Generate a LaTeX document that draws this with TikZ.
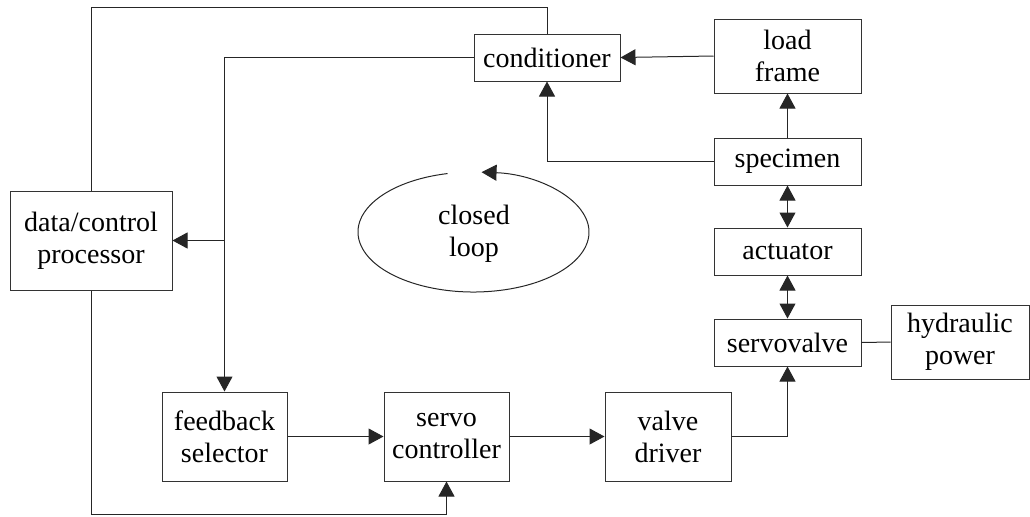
\documentclass[tikz,border=0pt]{standalone}
\usepackage{fontspec}
\setmainfont{Liberation Serif}
\usepackage{tikz}
\usetikzlibrary{arrows.meta,positioning,calc}
\tikzstyle{block} = [rectangle, draw=black!80, line width=0.5pt, align=center, inner sep=0pt, font=\rmfamily\fontsize{14}{16}\selectfont]
\tikzstyle{flatbox} = [block, minimum width=73.5pt, minimum height=23.5pt]
\tikzstyle{loopbox} = [block, minimum width=62.5pt, minimum height=44.5pt]
\tikzstyle{link} = [line width=0.5pt, draw=black!85]
\tikzstyle{arrow} = [link, -{Triangle[length=7.5pt,width=8pt]}]
\tikzstyle{twoway} = [link, {Triangle[length=7.5pt,width=8pt]}-{Triangle[length=7.5pt,width=8pt]}]

\begin{document}
\begin{tikzpicture}[x=0.5pt, y=-0.5pt]
\useasboundingbox (0,0) rectangle (1030,516);

% Left side: processor and signal conditioning
\node[block, minimum width=81pt, minimum height=49.5pt] (proc) at (91,240.5) {data/control\\processor};
\node[flatbox, minimum width=73pt] (cond) at (547,57.5) {conditioner};

% Right column: test rig
\node[flatbox, minimum height=37pt] (frame) at (787.5,56) {load\\frame};
\node[flatbox] (spec) at (787.5,161.5) {specimen};
\node[flatbox] (act) at (787.5,251.5) {actuator};
\node[flatbox] (valve) at (787.5,342.5) {servovalve};
\node[block, minimum width=69pt, minimum height=37pt] (hyd) at (960,342) {hydraulic\\power};

% Bottom row: control chain
\node[loopbox] (select) at (224.5,436.5) {feedback\\selector};
\node[loopbox] (servo) at (446.5,436.5) {servo\\controller};
\node[loopbox, minimum width=63pt] (driver) at (668,436.5) {valve\\driver};

% Loop label
\coordinate (loopc) at (473.5,232);
\node[font=\rmfamily\fontsize{14}{16}\selectfont, align=center] (looptxt) at (474,234) {closed\\loop};
\draw[arrow] ($(loopc)+(-103:115.5 and 60)$) arc[start angle=-103, end angle=-446, x radius=115.5, y radius=60];

% Turning points
\coordinate (topline) at (547,7);
\coordinate (botline) at (446.5,514);

% Arrows
\draw[link] (proc.north) |- (topline) -- (cond.north);
\draw[arrow] (cond.west) -| (select.north);
\draw[arrow] (select.north |- proc.east) -- (proc.east);
\draw[arrow] (frame.west) -- (cond.east);
\draw[arrow] (spec.west) -| (cond.south);
\draw[arrow] (spec.north) -- (frame.south);
\draw[twoway] (spec.south) -- (act.north);
\draw[twoway] (act.south) -- (valve.north);
\draw[link] (valve.east) -- (hyd.west);
\draw[arrow] (select.east) -- (servo.west);
\draw[arrow] (servo.east) -- (driver.west);
\draw[arrow] (driver.east) -| (valve.south);
\draw[arrow] (proc.south) |- (botline) -- (servo.south);
\end{tikzpicture}
\end{document}
